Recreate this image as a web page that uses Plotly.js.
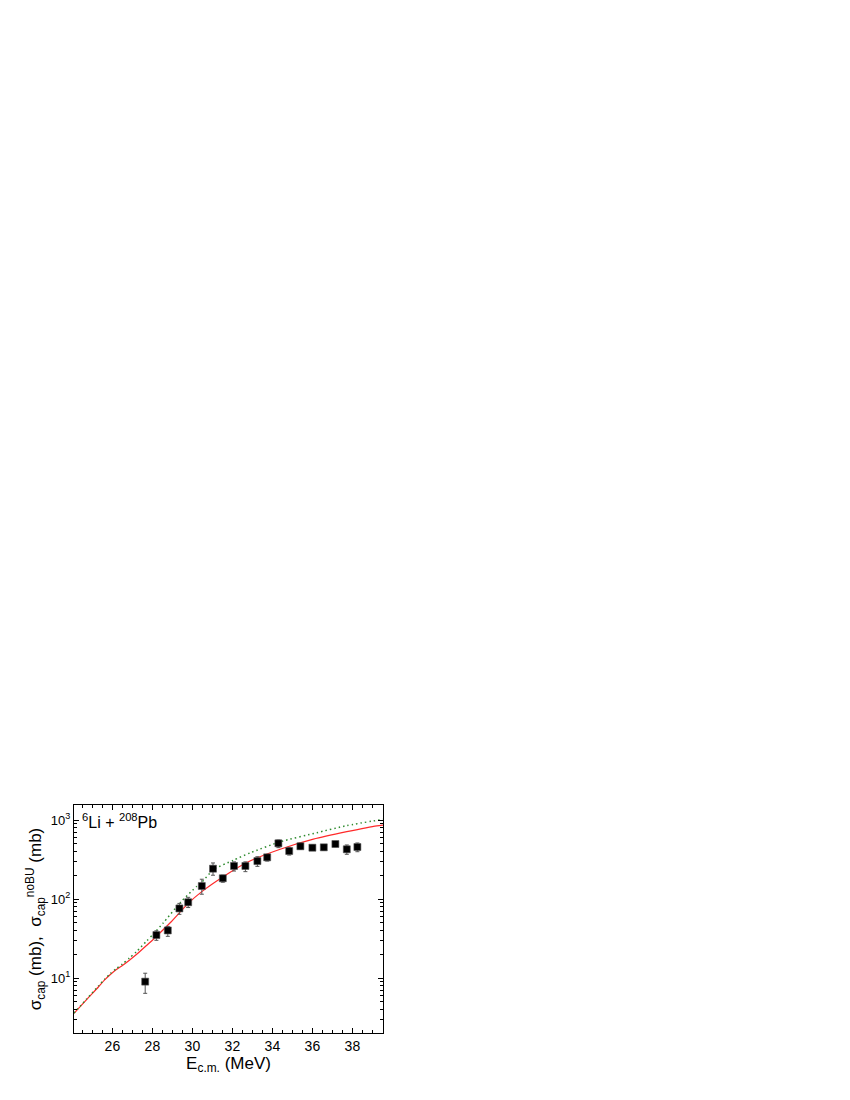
<!DOCTYPE html>
<html>
<head>
<meta charset="utf-8">
<script src="https://cdn.plot.ly/plotly-3.0.1.min.js"></script>
<style>html,body{margin:0;padding:0;background:#fff;}</style>
</head>
<body>
<div id="chart" style="width:850px;height:1100px;"></div>
<script>
// Experimental capture cross sections (mb)
const expE = [27.64, 28.2, 28.77, 29.35, 29.79, 30.47, 31.03, 31.52, 32.08, 32.65, 33.25, 33.74, 34.3, 34.84, 35.4, 36.0, 36.57, 37.15, 37.72, 38.25];
const expSigma = [9.0, 35, 40, 76, 91, 146, 242, 183, 262, 262, 302, 337, 507, 405, 465, 446, 451, 497, 426, 455];
const expErrPlus = [2.5, 4.6, 5, 12, 14, 32, 44, 17, 33, 33, 41, 23, 51, 46, 42, 35, 35, 38, 57, 57];
const expErrMinus = [2.6, 5, 6.3, 12, 13, 31, 42, 20, 36, 40, 43, 35, 60, 45, 38, 35, 35, 38, 58, 58];

// Calculated sigma_cap (red solid)
const capE = [24.08, 24.72, 25.3, 25.6, 25.9, 26.2, 26.5, 26.85, 27.2, 27.72, 28.05, 28.89, 29.79, 30.47, 31.52, 32.72, 34.39, 36.05, 37.72, 39.22, 39.53];
const capSigma = [3.57, 5.37, 7.7, 9.4, 11.1, 12.8, 14.4, 16.8, 19.8, 26.0, 31.0, 50, 88, 124, 190, 290, 426, 572, 711, 845, 862];

// Calculated sigma_cap noBU (green dotted)
const noBUE = [24.08, 24.72, 25.3, 25.6, 25.9, 26.2, 26.5, 26.85, 27.2, 27.72, 28.05, 28.55, 29.39, 30.22, 30.47, 31.05, 32.05, 32.9, 34.39, 36.22, 37.72, 39.53];
const noBUSigma = [3.6, 5.45, 7.9, 9.6, 11.4, 13.2, 15.0, 17.9, 21.5, 29.5, 36.0, 50, 90, 145, 163, 235, 310, 385, 530, 690, 850, 1020];

const xTickVals = [26, 28, 30, 32, 34, 36, 38];
const yTickVals = [10, 100, 1000];
const yTickText = ['10<sup>1</sup>', '10<sup>2</sup>', '10<sup>3</sup>'];

const yMinor = [];
[1, 10, 100, 1000].forEach(d => { for (let k = 2; k <= 9; k++) yMinor.push(k * d); });

const traces = [
  {
    x: capE, y: capSigma, type: 'scatter', mode: 'lines',
    line: {color: '#ff2a2a', width: 1.2, shape: 'spline', smoothing: 0.6},
    showlegend: false, hoverinfo: 'skip'
  },
  {
    x: noBUE, y: noBUSigma, type: 'scatter', mode: 'lines',
    line: {color: '#2e8b2e', width: 1.5, dash: '1.5px,3px', shape: 'spline', smoothing: 0.6},
    showlegend: false, hoverinfo: 'skip'
  },
  {
    x: expE, y: expSigma, type: 'scatter', mode: 'markers',
    marker: {symbol: 'square', color: '#000', size: 7, line: {color: '#555', width: 0.6}},
    error_y: {type: 'data', symmetric: false, array: expErrPlus, arrayminus: expErrMinus,
              color: '#555', thickness: 1, width: 2},
    showlegend: false
  }
];

const font = 'Arial, "Liberation Sans", sans-serif';

const layout = {
  width: 850, height: 1100,
  margin: {l: 74, r: 467, t: 805, b: 67},
  paper_bgcolor: '#fff', plot_bgcolor: '#fff',
  font: {family: font, color: '#000'},
  xaxis: {
    type: 'linear', range: [24.08, 39.53],
    tickmode: 'array', tickvals: xTickVals,
    ticks: 'inside', ticklen: 5, tickwidth: 1, tickcolor: '#000',
    minor: {dtick: 0.5, tick0: 26, ticks: 'inside', ticklen: 3, tickwidth: 1, tickcolor: '#000'},
    showline: true, linecolor: '#000', linewidth: 1, mirror: 'ticks',
    showgrid: false, zeroline: false,
    tickfont: {size: 14, family: font},
    title: {text: 'E<sub>c.m.</sub> (MeV)', font: {size: 17, family: font}, standoff: 2}
  },
  yaxis: {
    type: 'log', range: [0.304, 3.19],
    tickmode: 'array', tickvals: yTickVals, ticktext: yTickText,
    ticks: 'inside', ticklen: 5, tickwidth: 1, tickcolor: '#000',
    minor: {tickmode: 'array', tickvals: yMinor, ticks: 'inside', ticklen: 3, tickwidth: 1, tickcolor: '#000'},
    showline: true, linecolor: '#000', linewidth: 1, mirror: 'ticks',
    showgrid: false, zeroline: false,
    tickfont: {size: 13, family: font},
    title: {text: 'σ<sub>cap</sub> (mb),  σ<sub>cap</sub><sup>noBU</sup> (mb)', font: {size: 17, family: font}, standoff: 4}
  },
  annotations: [
    {
      xref: 'paper', yref: 'paper', x: 0.02, y: 0.93, xanchor: 'left', yanchor: 'middle',
      text: '<sup>6</sup>Li + <sup>208</sup>Pb', showarrow: false,
      font: {size: 16, family: font, color: '#000'}
    }
  ]
};

Plotly.newPlot('chart', traces, layout, {displayModeBar: false, staticPlot: true});
</script>
</body>
</html>
